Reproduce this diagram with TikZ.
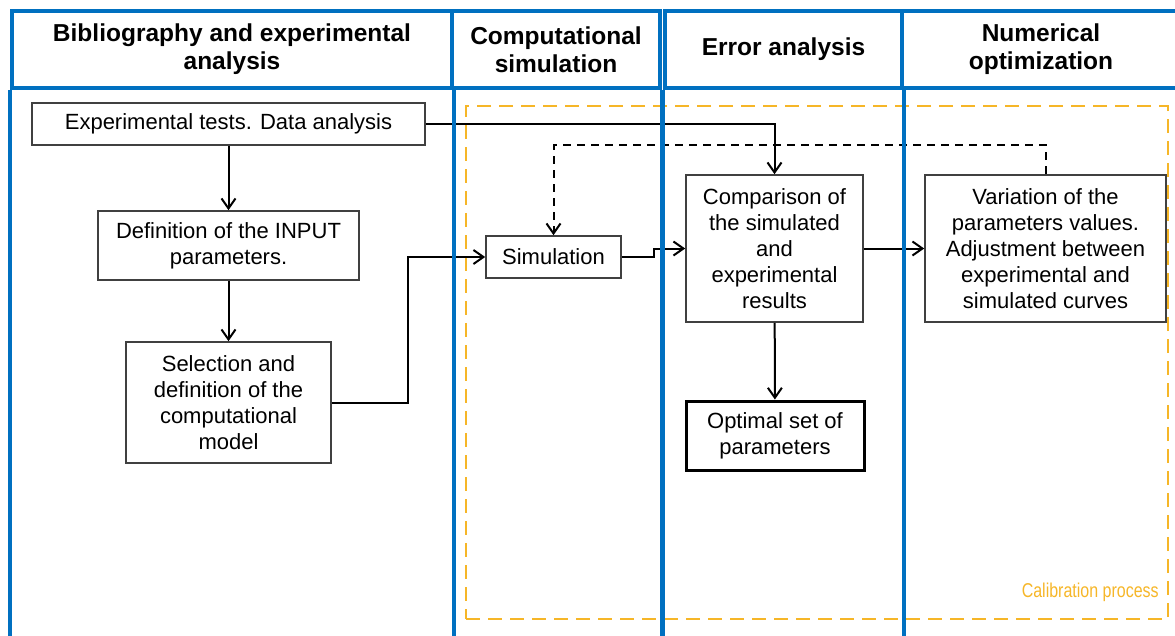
\documentclass[tikz,border=0pt]{standalone}
\usepackage{fontspec}
\setmainfont{Liberation Sans}
\newfontfamily\narrowsans[FakeStretch=0.8]{Liberation Sans}
\usetikzlibrary{arrows.meta,positioning}

\definecolor{laneblue}{RGB}{0,112,192}
\definecolor{calibcol}{RGB}{246,182,40}
\definecolor{boxgray}{RGB}{64,64,64}

\begin{document}
\begin{tikzpicture}[x=1pt, y=-1pt, thick]

   \tikzstyle{head}=[rectangle, draw=laneblue, line width=4pt, minimum height=77pt, inner sep=0pt, align=center, font=\fontsize{24.5}{28}\selectfont\bfseries]
   \tikzstyle{lane}=[draw=laneblue, line width=4pt]
   \tikzstyle{stage}=[rectangle, draw=boxgray, line width=1.6pt, fill=white, inner sep=0pt, align=center, font=\fontsize{22}{26}\selectfont]
   \tikzstyle{result}=[stage, draw=black, line width=3pt]
   \tikzstyle{flow}=[line width=2pt, -{Straight Barb[length=10pt, width=14pt, line width=2pt]}]
   \tikzstyle{calib}=[rectangle, draw=calibcol, line width=2.2pt, dash pattern=on 14pt off 8pt, inner sep=0pt]

   \useasboundingbox (0,0) rectangle (1175,635);
   \clip (0,0) rectangle (1175,635);

   % calibration frame
   \node[calib, minimum width=702pt, minimum height=513pt] (calib) at (817,362.5) {};
   \node[anchor=south east, text=calibcol, inner sep=0pt, font=\fontsize{20}{22}\narrowsans] (calibtxt) at ([shift={(-10,-18)}]calib.south east) {Calibration process};

   % boxes
   \node[stage, minimum width=393pt, minimum height=42pt] (exp) at (228.5,124) {Experimental tests. Data analysis};
   \node[stage, minimum width=261pt, minimum height=69pt] (input) at (228.5,245.5) {Definition of the INPUT\\parameters.};
   \node[stage, minimum width=205pt, minimum height=121pt] (model) at (228.5,402.5) {Selection and\\definition of the\\computational\\model};
   \node[stage, minimum width=135pt, minimum height=42pt] (sim) at (553.5,257) {Simulation};
   \node[stage, minimum width=177pt, minimum height=147pt] (comp) at (774.5,248.5) {Comparison of\\the simulated\\and\\experimental\\results};
   \node[result, minimum width=178pt, minimum height=69pt] (opt) at (775,435.5) {Optimal set of\\parameters};
   \node[stage, minimum width=241pt, minimum height=147pt] (var) at (1045.5,248.5) {Variation of the\\parameters values.\\Adjustment between\\experimental and\\simulated curves};

   % connectors
   \draw[flow] (exp.east) -| (comp.north);
   \draw[flow] (exp) -- (input);
   \draw[flow] (input) -- (model);
   \draw[flow] (model.east) -- ++(76,0) |- (sim.west);
   \draw[flow] (sim.east) -- ++(32,0) |- (comp.west);
   \draw[flow] (comp) -- (var);
   \draw[flow] (comp) -- (opt);
   \draw[flow, dash pattern=on 8pt off 6pt] (var.north) -- ++(0,-29) -| (sim.north);

   % lanes
   \node[head, minimum width=440pt] (h1) at (232,49.5) {Bibliography and experimental\\analysis};
   \node[head, minimum width=208pt] (h2) at (556,49.5) {Computational\\simulation};
   \node[head, minimum width=237pt] (h3) at (783.5,49.5) {Error analysis};
   \node[head, minimum width=278pt] (h4) at (1041,49.5) {Numerical\\optimization};
   \draw[lane] (h1.south west) -- ++(0,570);
   \draw[lane] (h1.south east) -- ++(0,570);
   \draw[lane] (h2.south east) -- ++(0,570);
   \draw[lane] (h3.south west) -- ++(0,570);
   \draw[lane] (h3.south east) -- ++(0,570);
   \draw[lane] (h4.south east) -- ++(0,570);
\end{tikzpicture}
\end{document}
